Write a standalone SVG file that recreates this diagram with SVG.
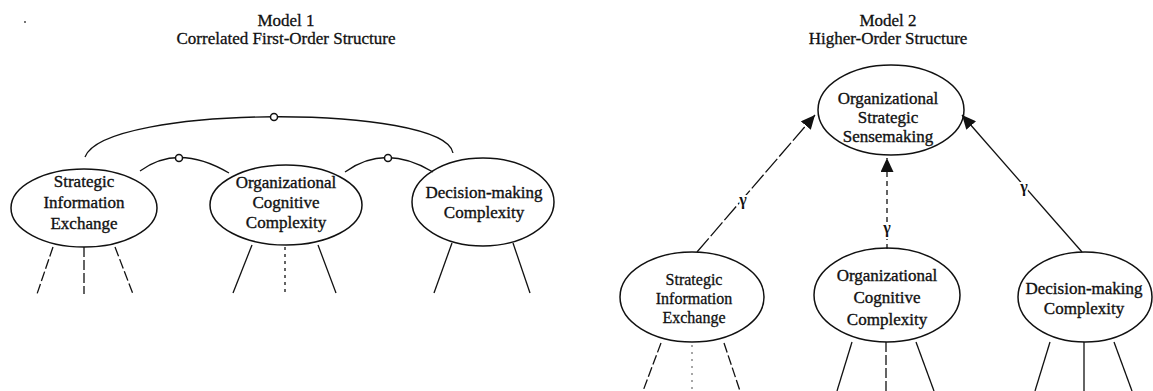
<svg xmlns="http://www.w3.org/2000/svg" width="1153" height="391" viewBox="0 0 1153 391">
  <style>
    .title { font-family: "Liberation Serif", "Times New Roman", serif; font-size: 17px; fill: #111; stroke: #111; stroke-width: 0.3px; text-anchor: middle; }
    .lbl { font-family: "Liberation Serif", "Times New Roman", serif; font-size: 17px; fill: #111; stroke: #111; stroke-width: 0.35px; text-anchor: middle; }
    .lbl-s { font-family: "Liberation Serif", "Times New Roman", serif; font-size: 16px; fill: #111; stroke: #111; stroke-width: 0.3px; text-anchor: middle; }
    .gamma { font-family: "Liberation Serif", "Times New Roman", serif; font-size: 16px; font-weight: bold; fill: #111; text-anchor: middle; stroke: #fff; stroke-width: 4px; paint-order: stroke; }
    .oval { fill: none; stroke: #111; stroke-width: 1.5; }
    .edge { fill: none; stroke: #111; stroke-width: 1.3; }
    .dash { stroke-dasharray: 10 3; }
    .long-dash { stroke-dasharray: 18 3; }
    .dot { stroke-dasharray: 3 4; }
    .faint { stroke: #777; stroke-dasharray: 2 5; }
    .corr-pt { fill: #fff; stroke: #111; stroke-width: 1.5; }
  </style>
  <defs>
    <marker id="tri" markerUnits="userSpaceOnUse" markerWidth="15" markerHeight="13" refX="14" refY="6.5" orient="auto">
      <path d="M0,0 L14,6.5 L0,13 Z" fill="#111"/>
    </marker>
  </defs>

  <rect width="1153" height="391" fill="#fff"/>

  <!-- stray mark near the upper left corner -->
  <circle cx="25" cy="22" r="0.9" fill="#333"/>

  <!-- titles -->
  <g id="title-model1">
    <text class="title" x="286" y="26">Model 1</text>
    <text class="title" x="286" y="44">Correlated First-Order Structure</text>
  </g>
  <g id="title-model2">
    <text class="title" x="888" y="26">Model 2</text>
    <text class="title" x="888" y="44">Higher-Order Structure</text>
  </g>

  <!-- connectors -->
  <g id="connectors">
    <!-- Model 1: correlations between first-order factors -->
    <path class="edge" d="M85,157 C105,104 445,104 453,153"/>
    <path class="edge" d="M140,171 Q178,143 229,173"/>
    <path class="edge" d="M345,172 Q385,143 433,172"/>
    <circle class="corr-pt" cx="274" cy="117" r="3.5"/>
    <circle class="corr-pt" cx="179" cy="158" r="3.5"/>
    <circle class="corr-pt" cx="388" cy="158" r="3.5"/>

    <!-- Model 1: indicator lines -->
    <line class="edge dash" x1="53" y1="247" x2="37" y2="294"/>
    <line class="edge dash" x1="84" y1="247" x2="84" y2="294"/>
    <line class="edge dash" x1="115" y1="247" x2="133" y2="294"/>
    <line class="edge" x1="252" y1="245" x2="233" y2="293"/>
    <line class="edge dot" x1="285" y1="247" x2="285" y2="293"/>
    <line class="edge" x1="318" y1="245" x2="336" y2="293"/>
    <line class="edge" x1="452" y1="243" x2="434" y2="293"/>
    <line class="edge" x1="513" y1="243" x2="530" y2="293"/>

    <!-- Model 2: paths to the higher-order factor -->
    <line class="edge long-dash" x1="697" y1="252" x2="815" y2="115" marker-end="url(#tri)"/>
    <line class="edge" stroke-dasharray="5 4" x1="887" y1="249" x2="887" y2="158" marker-end="url(#tri)"/>
    <line class="edge" x1="1082" y1="252" x2="962" y2="115" marker-end="url(#tri)"/>
    <text class="gamma" x="743" y="205">γ</text>
    <text class="gamma" x="887" y="233">γ</text>
    <text class="gamma" x="1024" y="192">γ</text>

    <!-- Model 2: indicator lines -->
    <line class="edge dash" x1="661" y1="343" x2="643" y2="391"/>
    <line class="edge faint" x1="692" y1="345" x2="692" y2="391"/>
    <line class="edge dash" x1="724" y1="343" x2="740" y2="391"/>
    <line class="edge" x1="852" y1="342" x2="837" y2="391"/>
    <line class="edge dash" x1="886" y1="342" x2="886" y2="391"/>
    <line class="edge" x1="916" y1="342" x2="934" y2="391"/>
    <line class="edge" x1="1050" y1="342" x2="1035" y2="391"/>
    <line class="edge" x1="1084" y1="342" x2="1084" y2="391"/>
    <line class="edge" x1="1114" y1="342" x2="1132" y2="391"/>
  </g>

  <!-- Model 1 nodes -->
  <g id="m1-sie">
    <ellipse class="oval" cx="84" cy="208" rx="73" ry="39"/>
    <text class="lbl" x="84" y="187">Strategic</text>
    <text class="lbl" x="84" y="208">Information</text>
    <text class="lbl" x="84" y="229">Exchange</text>
  </g>
  <g id="m1-occ">
    <ellipse class="oval" cx="286" cy="205" rx="76" ry="40"/>
    <text class="lbl" x="286" y="188">Organizational</text>
    <text class="lbl" x="286" y="208">Cognitive</text>
    <text class="lbl" x="286" y="228">Complexity</text>
  </g>
  <g id="m1-dmc">
    <ellipse class="oval" cx="483" cy="202" rx="71" ry="44"/>
    <text class="lbl" x="484" y="198">Decision-making</text>
    <text class="lbl" x="484" y="218">Complexity</text>
  </g>

  <!-- Model 2 nodes -->
  <g id="m2-oss">
    <ellipse class="oval" cx="891" cy="110" rx="73" ry="45"/>
    <text class="lbl" x="888" y="104">Organizational</text>
    <text class="lbl" x="888" y="123">Strategic</text>
    <text class="lbl" x="888" y="142">Sensemaking</text>
  </g>
  <g id="m2-sie">
    <ellipse class="oval" cx="692" cy="297" rx="72" ry="45"/>
    <text class="lbl-s" x="694" y="285">Strategic</text>
    <text class="lbl-s" x="694" y="304">Information</text>
    <text class="lbl-s" x="694" y="323">Exchange</text>
  </g>
  <g id="m2-occ">
    <ellipse class="oval" cx="887" cy="295" rx="73" ry="47"/>
    <text class="lbl" x="887" y="281">Organizational</text>
    <text class="lbl" x="887" y="303">Cognitive</text>
    <text class="lbl" x="887" y="325">Complexity</text>
  </g>
  <g id="m2-dmc">
    <ellipse class="oval" cx="1085" cy="297" rx="67" ry="45"/>
    <text class="lbl" x="1084" y="294">Decision-making</text>
    <text class="lbl" x="1084" y="314">Complexity</text>
  </g>
</svg>
